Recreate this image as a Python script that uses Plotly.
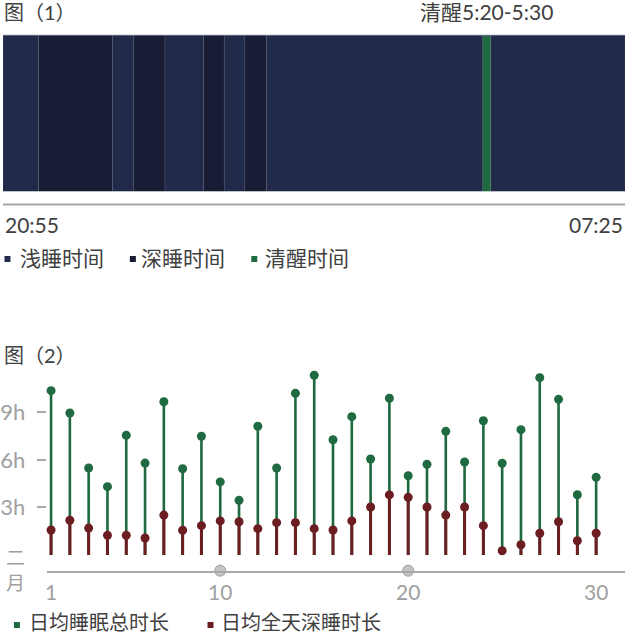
import plotly.graph_objects as go

W, H = 625, 636
def py(px):  # pixel-from-top -> paper y
    return (H - px) / H

FONT = "Lato, 'Noto Sans CJK SC', sans-serif"
TXT = "#404040"
GRAY = "#a0a0a0"

# ---------------- chart 1 data (minutes after 20:55) ----------------
light_start = [0, 111, 164, 224, 267, 494]
light_len = [36, 21, 39, 21, 219, 136]
deep_start = [36, 132, 203, 245]
deep_len = [75, 32, 21, 22]
awake_start = [486]
awake_len = [8]
total_minutes = 630
start_label, end_label = "20:55", "07:25"
awake_label = "清醒5:20-5:30"
legend1 = ["浅睡时间", "深睡时间", "清醒时间"]
C_LIGHT, C_DEEP, C_AWAKE = "#222a4a", "#181c34", "#1f6a40"

# ---------------- chart 2 data ----------------
days = list(range(1, 31))
total_sleep = [10.37, 8.96, 5.49, 4.31, 7.55, 5.80, 9.67, 5.44, 7.49, 4.61,
               3.45, 8.12, 5.49, 10.2, 11.34, 7.27, 8.73, 6.06, 9.89, 5.0,
               5.72, 7.8, 5.87, 8.47, 5.79, 7.91, 11.19, 9.82, 3.8, 4.9]
deep_sleep = [1.58, 2.19, 1.70, 1.24, 1.24, 1.07, 2.52, 1.56, 1.85, 2.15,
              2.1, 1.66, 2.04, 2.04, 1.66, 1.58, 2.15, 3.03, 3.79, 3.64,
              3.03, 2.52, 3.03, 1.85, 0.27, 0.65, 1.37, 2.1, 0.9, 1.37]
y_ticks = [3, 6, 9]
y_ticktext = ["3h", "6h", "9h"]
x_ticks = [1, 10, 20, 30]
axis_markers = [10, 20]
legend2 = ["日均睡眠总时长", "日均全天深睡时长"]
C_TOTAL, C_DEEP2 = "#1f6a40", "#6b1d22"

fig = go.Figure()

# chart 1 bars
mline = dict(color="rgba(100,110,135,0.3)", width=0.6)
for starts, lens, col in [(light_start, light_len, C_LIGHT),
                          (deep_start, deep_len, C_DEEP),
                          (awake_start, awake_len, C_AWAKE)]:
    fig.add_trace(go.Bar(orientation="h", y=[0] * len(starts), x=lens, base=starts,
                         width=1, marker=dict(color=col, line=mline),
                         xaxis="x", yaxis="y", showlegend=False, hoverinfo="skip"))

# chart 2 stems + dots
fig.add_trace(go.Bar(x=days, y=total_sleep, width=0.14, marker=dict(color=C_TOTAL, line_width=0),
                     xaxis="x2", yaxis="y2", showlegend=False, hoverinfo="skip"))
fig.add_trace(go.Bar(x=days, y=deep_sleep, width=0.16, marker=dict(color=C_DEEP2, line_width=0),
                     xaxis="x2", yaxis="y2", showlegend=False, hoverinfo="skip"))
fig.add_trace(go.Scatter(x=days, y=total_sleep, mode="markers",
                         marker=dict(color=C_TOTAL, size=9, line_width=0),
                         xaxis="x2", yaxis="y2", showlegend=False, cliponaxis=False))
fig.add_trace(go.Scatter(x=days, y=deep_sleep, mode="markers",
                         marker=dict(color=C_DEEP2, size=9, line_width=0),
                         xaxis="x2", yaxis="y2", showlegend=False, cliponaxis=False))

y2_bottom_px, zero_px, px_per_h = 570.7, 555.0, 15.85
y2_min = -(y2_bottom_px - zero_px) / px_per_h
y2_max = 12
fig.add_trace(go.Scatter(x=axis_markers, y=[y2_min] * len(axis_markers), mode="markers",
                         marker=dict(color="#c4c4c4", size=11, line=dict(color="#9a9a9a", width=1)),
                         xaxis="x2", yaxis="y2", showlegend=False, cliponaxis=False))

x2_left_px = 44
x_lo = 1 - (48.3 - x2_left_px) / 18.89
x_hi = 30 + (625 - 596.0) / 18.89

fig.update_layout(
    width=W, height=H, margin=dict(l=0, r=0, t=0, b=0),
    paper_bgcolor="white", plot_bgcolor="rgba(0,0,0,0)",
    barmode="overlay", font=dict(family=FONT, color=TXT, size=21),
    xaxis=dict(domain=[0, 1], range=[0, total_minutes], visible=False, fixedrange=True),
    yaxis=dict(domain=[py(191.5), py(35)], range=[-0.5, 0.5], visible=False, fixedrange=True),
    xaxis2=dict(domain=[x2_left_px / W, 1], range=[x_lo, x_hi], anchor="y2",
                showgrid=False, zeroline=False, showline=True, linecolor="#a8a8a8", linewidth=1.5,
                tickvals=x_ticks, ticks="", tickfont=dict(size=21, color=GRAY),
                ticklabelstandoff=2),
    yaxis2=dict(domain=[py(y2_bottom_px), py(zero_px - y2_max * px_per_h)], range=[y2_min, y2_max],
                anchor="x2", showgrid=False, zeroline=False, showline=False,
                tickvals=y_ticks, ticktext=y_ticktext, ticks="outside", ticklen=9,
                tickcolor="#a8a8a8", tickwidth=1.5, tickfont=dict(size=22, color=GRAY),
                ticklabelstandoff=7),
)

shapes = []
# top edge of chart 1
shapes.append(dict(type="line", xref="paper", yref="paper", x0=0, x1=1, y0=py(35.3), y1=py(35.3),
                   line=dict(color="#6c7285", width=1)))
# separator line under chart 1
shapes.append(dict(type="line", xref="paper", yref="paper", x0=0, x1=1, y0=py(204.5), y1=py(204.5),
                   line=dict(color="#a8a8a8", width=2)))
# legend squares
def sq(xpx, ypx, col):
    shapes.append(dict(type="rect", xref="paper", yref="paper",
                       x0=(xpx - 3) / W, x1=(xpx + 3) / W, y0=py(ypx + 3), y1=py(ypx - 3),
                       fillcolor=col, line_width=0))
ann = []
def txt(text, xpx, ypx, anchor="left", size=21, color=TXT):
    ann.append(dict(text=text, xref="paper", yref="paper", x=xpx / W, y=py(ypx),
                    xanchor=anchor, yanchor="middle", showarrow=False,
                    font=dict(size=size, color=color, family=FONT)))

txt("图（1）", -1, 12, size=20)
ann.append(dict(text=awake_label, xref="x", yref="paper", x=awake_start[0] + awake_len[0] / 2,
                y=py(12), xanchor="center", yanchor="middle", showarrow=False,
                font=dict(size=21, color=TXT, family=FONT)))
txt(start_label, 0, 225)
txt(end_label, 625, 225, anchor="right")

leg1_sq = [4.5, 130.5, 252.5]
leg1_tx = [15, 137, 261]
for name, col, xs, xt in zip(legend1, [C_LIGHT, C_DEEP, C_AWAKE], leg1_sq, leg1_tx):
    sq(xs, 259, col)
    txt(name, xt, 257)

txt("图（2）", -1, 355, size=20)
txt("二", 1, 557, size=19, color=GRAY)
txt("月", 1, 582, size=19, color=GRAY)

leg2_sq = [14, 208.5]
leg2_tx = [24, 217]
for name, col, xs, xt in zip(legend2, [C_TOTAL, C_DEEP2], leg2_sq, leg2_tx):
    sq(xs, 625, col)
    txt(name, xt, 622, size=20)

fig.update_layout(shapes=shapes, annotations=ann)
fig.write_html("out.html")
